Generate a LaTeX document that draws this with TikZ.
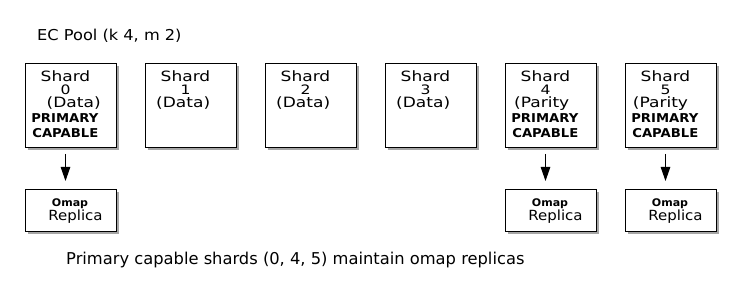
\documentclass[tikz,border=0pt]{standalone}
\usepackage{fontspec}
\setmainfont{DejaVu Sans}
\newfontfamily\ftitle[FakeStretch=1.08]{DejaVu Sans}
\newfontfamily\fshard[FakeStretch=1.2]{DejaVu Sans}
\newfontfamily\fbold[FakeStretch=1.08]{DejaVu Sans Bold}
\newfontfamily\fomap[FakeStretch=1.05]{DejaVu Sans Bold}
\newfontfamily\frep[FakeStretch=1.07]{DejaVu Sans}
\usetikzlibrary{shadows,arrows.meta}
\begin{document}
\begin{tikzpicture}[x=1pt,y=-1pt,
  box/.style={draw=black,line width=1pt,fill=white,minimum width=91pt,inner sep=0pt,anchor=north west,
     drop shadow={shadow xshift=2.5pt,shadow yshift=-2.5pt,fill=black,opacity=0.35}},
  shardbox/.style={box,minimum height=83.5pt},
  omapbox/.style={box,minimum height=42pt},
  txt/.style={inner sep=0pt,anchor=base west,font=\fshard\fontsize{14.2}{16}\selectfont},
  dig/.style={inner sep=0pt,anchor=base,font=\fshard\fontsize{13}{15}\selectfont},
  bld/.style={inner sep=0pt,anchor=base east,font=\fbold\fontsize{12.2}{14}\selectfont},
  omt/.style={inner sep=0pt,anchor=base,font=\fomap\fontsize{10.5}{12}\selectfont},
  rep/.style={inner sep=0pt,anchor=base,font=\frep\fontsize{14}{16}\selectfont},
  arr/.style={line width=1pt,-{Triangle[length=14pt,width=9.5pt]},shorten <=6pt,shorten >=8pt}]
\useasboundingbox (0,0) rectangle (740,294);
\fill[white] (0,0) rectangle (740,294);
\node[inner sep=0pt,anchor=base west,font=\ftitle\fontsize{15}{18}\selectfont] (title) at (37,40.7) {EC Pool (k 4, m 2)};
% shard boxes
\foreach \i in {0,...,5} {
  \node[shardbox] (s\i) at (25+120*\i,63.5) {};
}
% texts
\foreach \i in {0,...,5} {
  \node[txt] (sh\i) at (25+120*\i+15.5,81.2) {Shard};
  \node[dig] (d\i) at (25+120*\i+40.5,94.2) {\i};
}
\node[txt] (dt0) at (25+21.5,107.8) {(Data)};
\node[txt] (dt1) at (145+11,107.8) {(Data)};
\node[txt] (dt2) at (265+11,107.8) {(Data)};
\node[txt] (dt3) at (385+11,107.8) {(Data)};
\node[txt] (pt4) at (505+9,107.8) {(Parity};
\node[txt] (pt5) at (625+7.7,107.8) {(Parity};
\foreach \i/\x in {0/25,4/505,5/625} {
  \node[bld] (pr\i) at (\x+73.5,122.8) {PRIMARY};
  \node[bld] (ca\i) at (\x+73.5,137.3) {CAPABLE};
  \node[omapbox] (o\i) at (\x,189) {};
  \node[omt] (om\i) at (\x+45,206.3) {Omap};
  \node[rep] (re\i) at (\x+50.5,221) {Replica};
  \draw[arr] ([xshift=-5.5pt]s\i.south) -- ([xshift=-5.5pt]o\i.north);
}
\node[inner sep=0pt,anchor=base west,font=\fontsize{16.3}{19}\selectfont] (note) at (66,265) {Primary capable shards (0, 4, 5) maintain omap replicas};
\end{tikzpicture}
\end{document}
